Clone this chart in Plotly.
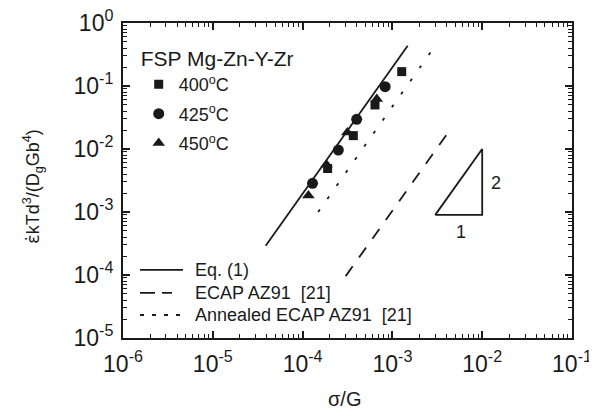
import plotly.graph_objects as go

# ---- data ----
sq_x = [1.9e-4, 3.67e-4, 6.4e-4, 1.27e-3]
sq_y = [4.9e-3, 1.63e-2, 5.0e-2, 1.69e-1]
ci_x = [1.29e-4, 2.5e-4, 4.0e-4, 8.3e-4]
ci_y = [2.85e-3, 9.6e-3, 2.96e-2, 9.75e-2]
tr_x = [1.16e-4, 1.85e-4, 3.15e-4, 6.7e-4]
tr_y = [1.82e-3, 5.6e-3, 1.82e-2, 6.2e-2]

eq1_x = [3.88e-5, 1.48e-3]
eq1_y = [2.92e-4, 0.436]
ecap_x = [3.02e-4, 4.37e-3]
ecap_y = [9.6e-5, 2.0e-2]
ann_x = [1.49e-4, 2.74e-3]
ann_y = [1.0e-3, 0.363]

tri_x = [3.0e-3, 1.0e-2, 1.0e-2, 3.0e-3]
tri_y = [9.0e-4, 9.0e-4, 1.0e-2, 9.0e-4]

x_exps = [-6, -5, -4, -3, -2, -1]
y_exps = [-5, -4, -3, -2, -1, 0]

line_names = ["Eq. (1)", "ECAP AZ91  [21]", "Annealed ECAP AZ91  [21]"]
line_dashes = ["solid", "12px,11px", "3px,13px"]
legend_dashes = ["solid", "15px,7px", "4px,8px"]

FONT = "Liberation Sans, Arial, sans-serif"
BLACK = "#1a1a1a"

fig = go.Figure()

def pts(x, y, sym, size, name, grp):
    fig.add_trace(go.Scatter(x=x, y=y, mode="markers", name=name,
                             marker=dict(symbol=sym, size=size, color=BLACK),
                             legend="legend", legendgroup=grp))

pts(sq_x, sq_y, "square", 9, "400<sup>o</sup>C", "a")
pts(ci_x, ci_y, "circle", 11, "425<sup>o</sup>C", "b")
pts(tr_x, tr_y, "triangle-up", 11, "450<sup>o</sup>C", "c")

for (lx, ly), dash, name in zip([(eq1_x, eq1_y), (ecap_x, ecap_y), (ann_x, ann_y)],
                                line_dashes, line_names):
    fig.add_trace(go.Scatter(x=lx, y=ly, mode="lines", name=name, showlegend=False,
                             line=dict(color=BLACK, width=1.8, dash=dash)))

fig.add_trace(go.Scatter(x=tri_x, y=tri_y, mode="lines", showlegend=False,
                         line=dict(color=BLACK, width=1.8)))

fig.add_annotation(x=-1.846, y=-2.54, xref="x", yref="y", text="2", showarrow=False,
                   font=dict(size=18, color=BLACK, family=FONT))
fig.add_annotation(x=-2.236, y=-3.317, xref="x", yref="y", text="1", showarrow=False,
                   font=dict(size=18, color=BLACK, family=FONT))

# manual lower-left legend for the lines
leg_rows = [0.216, 0.143, 0.073]
leg_x1 = [0.1336, 0.109, 0.1336]
for yy, x1, dash, name in zip(leg_rows, leg_x1, legend_dashes, line_names):
    fig.add_shape(type="line", xref="paper", yref="paper", x0=0.0379, x1=x1, y0=yy, y1=yy,
                  line=dict(color=BLACK, width=1.8, dash=dash))
    fig.add_annotation(x=0.156, y=yy, xref="paper", yref="paper", text=name,
                       xanchor="left", yanchor="middle", showarrow=False,
                       font=dict(size=18, color=BLACK, family=FONT))

minor_x = [m * 10.0 ** e for e in x_exps[:-1] for m in range(2, 10)]
minor_y = [m * 10.0 ** e for e in y_exps[:-1] for m in range(2, 10)]

axis_common = dict(type="log", showline=True, linecolor=BLACK, linewidth=2,
                   mirror="ticks", ticks="inside", ticklen=7, tickwidth=1.6,
                   tickcolor=BLACK, showgrid=False, zeroline=False, automargin=False,
                   ticklabeloverflow="allow",
                   tickfont=dict(size=23, color=BLACK, family=FONT))

fig.update_xaxes(**axis_common, range=[-6, -1], tickmode="array",
                 tickvals=[10.0 ** e for e in x_exps],
                 ticktext=[f"10<sup>{e}</sup>" for e in x_exps],
                 ticklabelstandoff=4,
                 minor=dict(tickmode="array", tickvals=minor_x, ticks="inside",
                            ticklen=4, tickwidth=1.3, tickcolor=BLACK, showgrid=False))
fig.update_yaxes(**axis_common, range=[-5, 0], tickmode="array",
                 tickvals=[10.0 ** e for e in y_exps],
                 ticktext=[f"10<sup>{e}</sup>" for e in y_exps],
                 ticklabelstandoff=3,
                 minor=dict(tickmode="array", tickvals=minor_y, ticks="inside",
                            ticklen=4, tickwidth=1.3, tickcolor=BLACK, showgrid=False))

fig.add_annotation(x=-0.2, y=0.48, xref="paper", yref="paper", textangle=-90,
                   xanchor="center", yanchor="middle",
                   text="<span style=\"font-family:DejaVu Sans\">ε\u0307</span>kTd<sup>3</sup>/(D<sub>g</sub>Gb<sup>4</sup>)",
                   showarrow=False, font=dict(size=18, color=BLACK, family=FONT))
fig.add_annotation(x=0.494, y=-0.195, xref="paper", yref="paper", text="σ/G",
                   xanchor="center", yanchor="middle",
                   showarrow=False, font=dict(size=20, color=BLACK, family=FONT))

# page body has an 8px default margin: size the figure to fill the 597x417 window
fig.update_layout(
    width=581, height=401,
    margin=dict(l=115, r=17, t=15, b=71),
    paper_bgcolor="white", plot_bgcolor="white",
    font=dict(family=FONT, color=BLACK),
    legend=dict(x=0.035, y=0.95, xanchor="left", yanchor="top",
                bgcolor="rgba(0,0,0,0)", traceorder="grouped", tracegroupgap=3,
                title=dict(text="FSP Mg-Zn-Y-Zr", font=dict(size=21, family=FONT, color=BLACK)),
                font=dict(size=18, family=FONT, color=BLACK)),
)

fig.write_html("out.html")
